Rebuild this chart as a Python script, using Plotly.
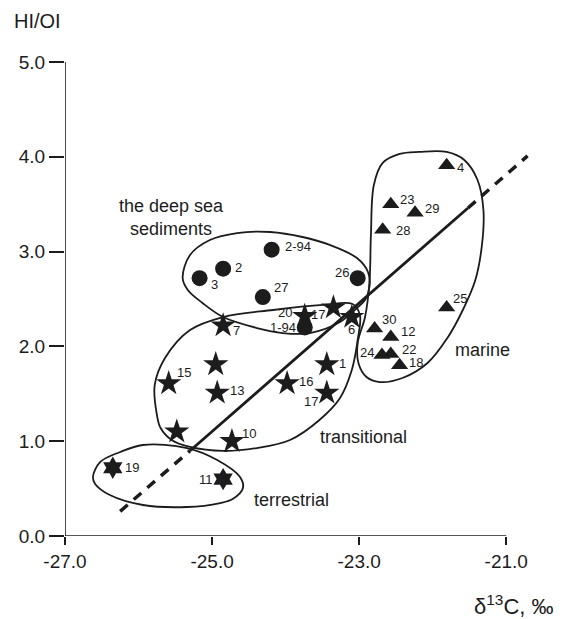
import plotly.graph_objects as go

# ---------------- data ----------------
# deep sea sediments (circles)
ds_x = [-25.17, -24.85, -24.19, -24.31, -23.02, -23.74]
ds_y = [2.72, 2.82, 3.02, 2.52, 2.72, 2.20]
ds_lbl = ["3", "2", "2-94", "27", "26", "1-94"]

# transitional (stars)
tr_x = [-23.74, -23.35, -23.10, -24.85, -24.95, -25.59, -24.93, -23.98, -23.44, -23.44, -25.48, -24.73]
tr_y = [2.32, 2.41, 2.31, 2.22, 1.81, 1.61, 1.51, 1.61, 1.81, 1.51, 1.10, 1.00]
tr_lbl = ["20", "17", "6", "7", "", "15", "13", "16", "1", "17", "", "10"]

# terrestrial (six-pointed stars)
te_x = [-26.35, -24.85]
te_y = [0.72, 0.60]
te_lbl = ["19", "11"]

# marine (triangles)
ma_x = [-21.81, -22.57, -22.24, -22.68, -21.81, -22.79, -22.57, -22.69, -22.57, -22.45]
ma_y = [3.91, 3.50, 3.41, 3.23, 2.41, 2.19, 2.10, 1.91, 1.92, 1.80]
ma_lbl = ["4", "23", "29", "28", "25", "30", "12", "24", "22", "18"]

# regression line (dashed ends, solid middle)
reg_dash1_x = [-26.25, -25.30]
reg_dash1_y = [0.26, 0.90]
reg_solid_x = [-25.30, -21.52]
reg_solid_y = [0.90, 3.46]
reg_dash2_x = [-21.52, -20.71]
reg_dash2_y = [3.46, 4.01]

# group outlines (hand-drawn envelopes)
ds_out_x = [-24.66, -24.21, -23.77, -23.40, -23.03, -22.88, -22.86, -22.92, -23.03, -23.26,
            -23.67, -24.04, -24.39, -24.85, -25.13, -25.33, -25.40, -25.30, -25.03, -24.66]
ds_out_y = [3.196, 3.207, 3.154, 3.070, 2.932, 2.785, 2.627, 2.489, 2.405, 2.257,
            2.141, 2.141, 2.194, 2.310, 2.458, 2.595, 2.722, 2.964, 3.122, 3.196]

tr_out_x = [-24.17, -23.49, -23.09, -22.99, -23.02, -23.10, -23.26, -23.54, -23.94, -24.39,
            -24.85, -25.30, -25.55, -25.70, -25.75, -25.78, -25.64, -25.30, -24.85, -24.17]
tr_out_y = [2.384, 2.437, 2.447, 2.331, 2.068, 1.751, 1.456, 1.224, 1.013, 0.928,
            0.897, 0.939, 1.013, 1.139, 1.276, 1.593, 1.878, 2.173, 2.310, 2.384]

te_out_x = [-25.94, -25.34, -24.93, -24.62, -24.58, -24.72, -24.89, -25.34, -25.94, -26.39,
            -26.59, -26.62, -26.52, -26.25, -25.94]
te_out_y = [0.960, 0.928, 0.802, 0.622, 0.506, 0.390, 0.348, 0.306, 0.327, 0.432,
            0.549, 0.622, 0.781, 0.886, 0.960]

ma_out_x = [-22.18, -21.81, -21.57, -21.39, -21.31, -21.33, -21.42, -21.59, -21.80, -22.07,
            -22.41, -22.72, -22.90, -23.01, -23.02, -22.92, -22.86, -22.84, -22.80, -22.68,
            -22.45, -22.18]
ma_out_y = [4.051, 4.051, 3.966, 3.755, 3.439, 3.070, 2.700, 2.384, 2.089, 1.825,
            1.667, 1.624, 1.677, 1.825, 2.036, 2.310, 2.669, 3.175, 3.703, 3.935,
            4.030, 4.051]

x_ticks = [-27, -25, -23, -21]
x_tick_text = ["-27.0", "-25.0", "-23.0", "-21.0"]
y_ticks = [0, 1, 2, 3, 4, 5]
y_tick_text = ["0.0", "1.0", "2.0", "3.0", "4.0", "5.0"]

# label offsets (pixels): (xanchor, xshift, yshift)
ds_off = [("left", 9, -6), ("left", 10, 1), ("left", 11, 3), ("left", 9, 10), ("right", -7, 6), ("right", -7, 0)]
tr_off = [("right", -11, 4), ("right", -6, -7), ("center", 0, -12), ("left", 8, -5), ("left", 0, 0),
          ("left", 6, 11), ("left", 11, 2), ("left", 10, 2), ("left", 10, 1), ("right", -7, -9),
          ("left", 0, 0), ("left", 8, 8)]
te_off = [("left", 10, 0), ("right", -8, 0)]
ma_off = [("left", 8, -2), ("left", 7, 5), ("left", 8, 4), ("left", 11, -1), ("left", 4, 9),
          ("left", 5, 9), ("left", 8, 5), ("right", -6, 2), ("left", 9, 4), ("left", 7, 3)]

FONT = "Liberation Sans, Arial, sans-serif"
INK = "#1c1c1c"

fig = go.Figure()

for ox, oy in [(ds_out_x, ds_out_y), (tr_out_x, tr_out_y), (te_out_x, te_out_y), (ma_out_x, ma_out_y)]:
    fig.add_trace(go.Scatter(x=ox, y=oy, mode="lines",
                             line=dict(color=INK, width=1.8, shape="spline", smoothing=1.0),
                             hoverinfo="skip", showlegend=False))

fig.add_trace(go.Scatter(x=reg_dash1_x, y=reg_dash1_y, mode="lines",
                         line=dict(color=INK, width=3.5, dash="10px,8px"), showlegend=False))
fig.add_trace(go.Scatter(x=reg_solid_x, y=reg_solid_y, mode="lines",
                         line=dict(color=INK, width=2.8), showlegend=False))
fig.add_trace(go.Scatter(x=reg_dash2_x, y=reg_dash2_y, mode="lines",
                         line=dict(color=INK, width=3.5, dash="10px,8px"), showlegend=False))

fig.add_trace(go.Scatter(x=ds_x, y=ds_y, mode="markers",
                         marker=dict(symbol="circle", size=16, color=INK), showlegend=False))
fig.add_trace(go.Scatter(x=tr_x, y=tr_y, mode="markers",
                         marker=dict(symbol="star", size=19, color=INK), showlegend=False))
fig.add_trace(go.Scatter(x=te_x, y=te_y, mode="markers",
                         marker=dict(symbol="hexagram", size=17, color=INK), showlegend=False))
fig.add_trace(go.Scatter(x=ma_x, y=ma_y, mode="markers",
                         marker=dict(symbol="triangle-up", size=15, color=INK), showlegend=False))

annotations = []
for xs, ys, ls, offs in [(ds_x, ds_y, ds_lbl, ds_off), (tr_x, tr_y, tr_lbl, tr_off),
                         (te_x, te_y, te_lbl, te_off), (ma_x, ma_y, ma_lbl, ma_off)]:
    for x, y, l, (xa, dx, dy) in zip(xs, ys, ls, offs):
        if not l:
            continue
        annotations.append(dict(x=x, y=y, xref="x", yref="y", text=l, showarrow=False,
                                xanchor=xa, yanchor="middle", xshift=dx, yshift=dy,
                                font=dict(family=FONT, size=13, color=INK)))

region_font = dict(family=FONT, size=18, color=INK)
annotations += [
    dict(x=-25.55, y=3.365, xref="x", yref="y", text="the deep sea<br>sediments", align="center",
         xanchor="center", yanchor="middle", showarrow=False, font=region_font),
    dict(x=-22.94, y=1.044, xref="x", yref="y", text="transitional", xanchor="center",
         yanchor="middle", showarrow=False, font=region_font),
    dict(x=-23.92, y=0.38, xref="x", yref="y", text="terrestrial", xanchor="center",
         yanchor="middle", showarrow=False, font=region_font),
    dict(x=-21.32, y=1.962, xref="x", yref="y", text="marine", xanchor="center",
         yanchor="middle", showarrow=False, font=region_font),
    dict(x=-0.108, y=1.111, xref="paper", yref="paper", text="HI/OI", xanchor="left",
         yanchor="top", showarrow=False, borderpad=0, font=dict(family=FONT, size=20, color=INK)),
    dict(x=1.027, y=-0.146, xref="paper", yref="paper", text="δ<sup>13</sup>C, ‰", xanchor="right",
         yanchor="middle", showarrow=False, font=dict(family=FONT, size=22, color=INK)),
]

shapes = [
    dict(type="line", xref="x", yref="y", x0=-27, y0=0, x1=-21, y1=0, line=dict(color=INK, width=1.6)),
    dict(type="line", xref="x", yref="y", x0=-27, y0=0, x1=-27, y1=5, line=dict(color=INK, width=1.6)),
]

# page body adds an 8px margin, so the figure is 8px smaller and shifted margins
fig.update_layout(
    width=560, height=611,
    margin=dict(l=57, r=25, t=54, b=83),
    paper_bgcolor="white", plot_bgcolor="white",
    annotations=annotations, shapes=shapes,
    font=dict(family=FONT, color=INK),
    xaxis=dict(range=[-27, -20.5], showgrid=False, zeroline=False, showline=False,
               tickmode="array", tickvals=x_ticks, ticktext=x_tick_text,
               ticks="outside", ticklen=8, tickwidth=1.6, tickcolor=INK,
               tickfont=dict(family=FONT, size=19, color=INK)),
    yaxis=dict(range=[0, 5], showgrid=False, zeroline=False, showline=False,
               tickmode="array", tickvals=y_ticks, ticktext=y_tick_text,
               ticks="outside", ticklen=15, tickwidth=1.6, tickcolor=INK,
               tickfont=dict(family=FONT, size=19, color=INK)),
)

fig.write_html("out.html")
